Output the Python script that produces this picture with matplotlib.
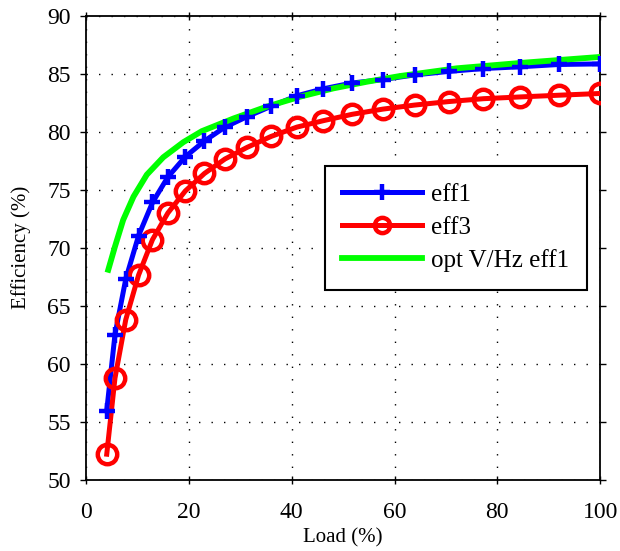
import matplotlib
matplotlib.use("Agg")
import matplotlib.pyplot as plt
from matplotlib.lines import Line2D

# Load points (%) shared by the measured efficiency curves
load = [4.0, 5.6, 7.7, 10.2, 12.9, 15.9, 19.3, 23.0, 27.0, 31.3, 36.0,
        41.0, 46.1, 51.7, 57.7, 63.9, 70.5, 77.3, 84.4, 92.0, 100.0]
eff1 = [55.95, 62.5, 67.3, 71.05, 73.9, 76.1, 77.85, 79.2, 80.4, 81.3, 82.2,
        83.1, 83.7, 84.2, 84.5, 84.9, 85.2, 85.45, 85.6, 85.8, 85.85]
eff3 = [52.2, 58.75, 63.8, 67.65, 70.7, 73.0, 74.9, 76.4, 77.65, 78.65, 79.6,
        80.4, 80.95, 81.5, 81.95, 82.3, 82.6, 82.85, 83.0, 83.15, 83.3]

# Optimal V/Hz curve
opt_load = [4.3, 5.6, 7.2, 9.2, 11.8, 15.0, 18.9, 22.5, 28.7, 35.1, 41.6,
            48.1, 54.6, 61.0, 72.1, 85.0, 100.0]
opt_eff1 = [68.1, 70.1, 72.4, 74.4, 76.3, 77.8, 79.1, 80.05, 81.15, 82.16, 83.02,
            83.74, 84.31, 84.8, 85.47, 85.95, 86.45]

x_ticks = [0, 20, 40, 60, 80, 100]
y_ticks = [50, 55, 60, 65, 70, 75, 80, 85, 90]

plt.rcParams['font.family'] = ['Liberation Serif', 'DejaVu Serif']

fig = plt.figure(figsize=(6.2, 5.51), dpi=100)
ax = fig.add_axes([0.139, 0.1294, 0.829, 0.842])

blue = '#0000ff'
red = '#ff0000'
green = '#00ff00'

ax.plot(load, eff1, color=blue, lw=3.6, zorder=3)
ax.plot(load, eff3, color=red, lw=3.6, marker='o', ms=14, mew=3.2,
        mfc='none', mec=red, zorder=4)
ax.plot(opt_load, opt_eff1, color=green, lw=4.2, zorder=5)
ax.plot(load, eff1, ls='none', marker='+', ms=12, mew=3.2, color=blue, zorder=6)

ax.set_xlim(0, 100)
ax.set_ylim(50, 90)
ax.set_xticks(x_ticks)
ax.set_yticks(y_ticks)
ax.tick_params(labelsize=17, length=4, width=1, color='black')
ax.tick_params(axis='y', direction='out', pad=7)
ax.tick_params(axis='x', direction='inout', length=6, pad=13)
ax.tick_params(top=True, right=True, labeltop=False, labelright=False)

ax.grid(True, color='black', linestyle=(0, (1, 8)), linewidth=1.0)
for s in ax.spines.values():
    s.set_linewidth(1.3)

ax.set_xlabel('Load (%)', fontsize=15, labelpad=4)
ax.set_ylabel('Efficiency (%)', fontsize=15)
ax.yaxis.set_label_coords(-0.108, 0.5)

handles = [
    Line2D([], [], color=blue, lw=3.6, marker='+', ms=12, mew=3.2),
    Line2D([], [], color=red, lw=3.6, marker='o', ms=11, mew=3.2, mfc='none'),
    Line2D([], [], color=green, lw=4.2),
]
leg = ax.legend(handles, ['eff1', 'eff3', 'opt V/Hz eff1'], loc='upper right',
                bbox_to_anchor=(0.974, 0.677), borderaxespad=0, fontsize=18,
                handlelength=3.2, fancybox=False, framealpha=1,
                edgecolor='black', labelspacing=0.42, borderpad=0.7,
                handletextpad=0.35)
leg.get_frame().set_linewidth(1.5)
leg.set_zorder(10)

fig.savefig('out.png', dpi=100)
